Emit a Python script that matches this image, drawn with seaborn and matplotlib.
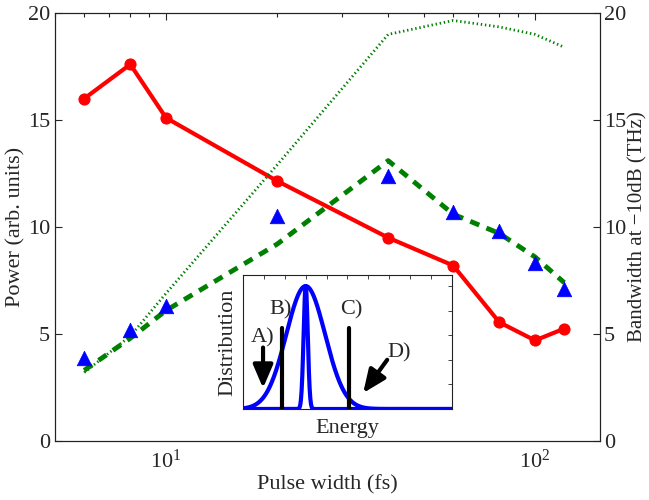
import numpy as np
import pandas as pd
import matplotlib
matplotlib.use('Agg')
import matplotlib.pyplot as plt
import seaborn as sns

# pulse widths (fs)
pulse_width = [6, 8, 10, 20, 40, 60, 80, 100, 120]
# power (left axis)
power = [16.0, 17.6, 15.1, 12.15, 9.5, 8.2, 5.55, 4.7, 5.25]
# bandwidth (right axis)
bw_measured = [3.9, 5.2, 6.3, 10.5, 12.4, 10.7, 9.8, 8.3, 7.1]
bw_dashed = [3.3, 4.8, 6.1, 9.2, 13.1, 10.6, 9.7, 8.6, 7.4]
bw_dotted = [3.2, 4.9, 6.9, 12.9, 19.0, 19.65, 19.35, 19.0, 18.4]

# inset schematic (relative energy units)
gauss_center = 0.30
gauss_sigma = 0.093
spike_sigma = 0.010
line_B = 0.187
line_C = 0.507
line_top = 0.66

sns.set_style("white")
plt.rcParams['font.family'] = ['Liberation Serif', 'DejaVu Serif']
plt.rcParams['mathtext.fontset'] = 'stix'
plt.rcParams['font.size'] = 16

df = pd.DataFrame({'pw': pulse_width, 'power': power, 'bw': bw_measured,
                   'bw_dash': bw_dashed, 'bw_dot': bw_dotted})

fig = plt.figure(figsize=(6.49, 5.0), dpi=100)
ax = fig.add_axes([0.0847, 0.118, 0.8398, 0.856])
ax2 = ax.twinx()

sns.lineplot(data=df, x='pw', y='power', ax=ax, color='red', lw=3,
             marker='o', ms=8, mec='red', mfc='red')

sns.lineplot(data=df, x='pw', y='bw_dot', ax=ax2, color='green', lw=2.0)
ax2.lines[-1].set_dashes((0.5, 1.0))
sns.lineplot(data=df, x='pw', y='bw_dash', ax=ax2, color='green', lw=3.5)
ax2.lines[-1].set_dashes((2.0, 1.6))
sns.scatterplot(data=df, x='pw', y='bw', ax=ax2, color='blue', marker='^',
                s=110, edgecolor='blue', linewidth=0.5, zorder=5)

for a in (ax, ax2):
    a.set_xscale('log')
    a.set_xlim(5, 150)
    a.set_ylim(0, 20)
    a.set_yticks([0, 5, 10, 15, 20])
    for s in a.spines.values():
        s.set_color('#222222')
        s.set_linewidth(0.8)

ax.tick_params(axis='both', which='both', direction='in', top=True, right=False,
               length=5, width=0.8, labelsize=16)
ax.tick_params(axis='x', which='minor', length=3)
ax.tick_params(axis='x', pad=6)
ax2.tick_params(axis='y', direction='in', length=5, width=0.8, labelsize=16, pad=3)
ax2.tick_params(axis='x', which='both', bottom=False, top=False)

ax.set_xlabel('Pulse width (fs)', fontsize=16, labelpad=2)
ax.set_ylabel('Power (arb. units)', fontsize=16, labelpad=2)
ax2.set_ylabel('Bandwidth at \u221210dB (THz)', fontsize=15, labelpad=1)
ax2.set_xlabel('')

# inset
ins = fig.add_axes([0.3744, 0.182, 0.322, 0.268])
e = np.linspace(0, 1, 600)
ins_df = pd.DataFrame({'energy': e,
                       'broad': np.exp(-(e - gauss_center) ** 2 / (2 * gauss_sigma ** 2)),
                       'spike': np.exp(-(e - gauss_center) ** 2 / (2 * spike_sigma ** 2))})
sns.lineplot(data=ins_df, x='energy', y='broad', ax=ins, color='blue', lw=3)
sns.lineplot(data=ins_df, x='energy', y='spike', ax=ins, color='blue', lw=3)
ins.plot([line_B, line_B], [0, line_top], color='black', lw=3)
ins.plot([line_C, line_C], [0, line_top], color='black', lw=3)

ins.text(0.096, 0.58, 'A)', ha='center', va='center', fontsize=16)
ins.text(0.18, 0.81, 'B)', ha='center', va='center', fontsize=16)
ins.text(0.52, 0.81, 'C)', ha='center', va='center', fontsize=16)
ins.text(0.745, 0.455, 'D)', ha='center', va='center', fontsize=16)
arrow = dict(arrowstyle='-|>,head_width=0.3,head_length=0.7', color='black',
             lw=3, mutation_scale=20, shrinkA=0, shrinkB=0)
ins.annotate('', xy=(0.096, 0.17), xytext=(0.096, 0.50), arrowprops=arrow)
ins.annotate('', xy=(0.575, 0.13), xytext=(0.69, 0.40), arrowprops=arrow)

ins.set_xlim(0, 1)
ins.set_ylim(0, 1.09)
ins.set_xticks(np.arange(0, 1.01, 0.1))
ins.set_yticks(np.arange(0, 1.01, 0.2))
ins.tick_params(direction='in', top=True, right=True, length=3, width=0.6,
                labelbottom=False, labelleft=False)
ins.set_xlabel('Energy', fontsize=16, labelpad=7)
ins.set_ylabel('Distribution', fontsize=16, labelpad=4)
for s in ins.spines.values():
    s.set_color('#222222')
    s.set_linewidth(0.8)

fig.savefig('out.png', dpi=100)
